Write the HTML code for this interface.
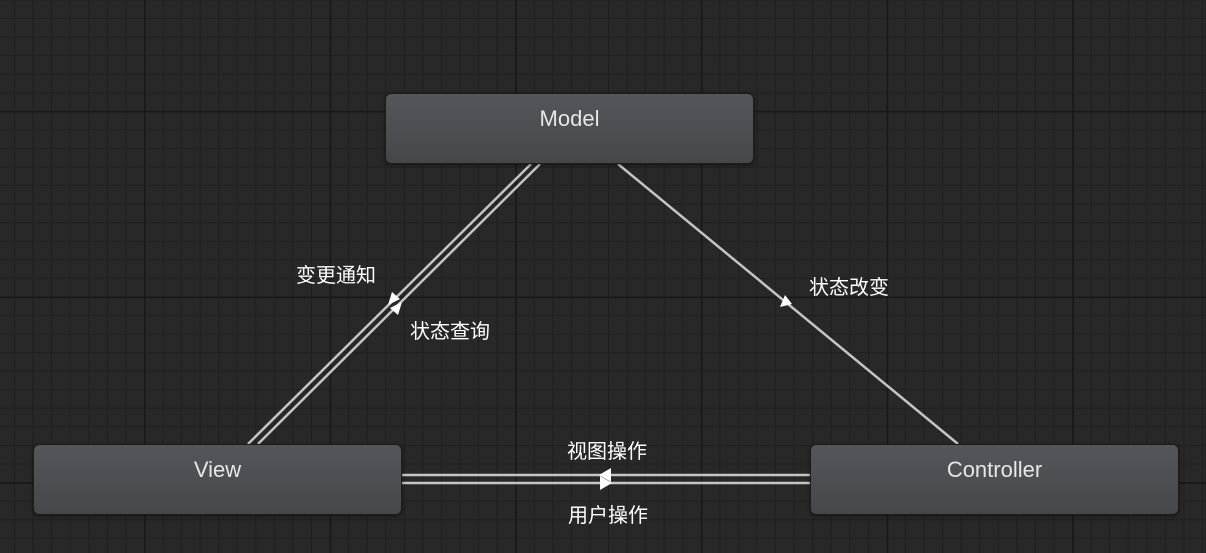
<!DOCTYPE html>
<html><head><meta charset="utf-8"><style>
body{margin:0;width:1206px;height:553px;overflow:hidden;background-color:#282828;
background-image:
linear-gradient(to right,#181818 0,#181818 1.5px,transparent 1.5px),
linear-gradient(to bottom,#181818 0,#181818 1.5px,transparent 1.5px),
linear-gradient(to right,#1f1f1f 0,#1f1f1f 1px,transparent 1px),
linear-gradient(to bottom,#1f1f1f 0,#1f1f1f 1px,transparent 1px);
background-size:185.7px 185.7px,185.7px 185.7px,18.57px 18.57px,18.57px 18.57px;
background-position:144px 0,0 111px,14px 0,0 18px;
font-family:"Liberation Sans","Noto Sans CJK SC",sans-serif;position:relative}
.n{position:absolute;width:367px;height:69px;border:1px solid #1c1c1c;border-radius:6px;
background:linear-gradient(#54565b,#45474b);color:#e6e6e6;font-size:22px;text-align:center;line-height:50px;box-shadow:0 1px 3px rgba(0,0,0,.5)}
.t{position:absolute;color:#fff;font-size:20px;white-space:nowrap}
svg{position:absolute;left:0;top:0}
</style></head><body>
<svg width="1206" height="553">
<g stroke="#c4c4c4" stroke-width="2.5">
<line x1="531" y1="164" x2="248" y2="444"/>
<line x1="540" y1="164" x2="258" y2="444"/>
<line x1="618" y1="164" x2="958" y2="444"/>
<line x1="402" y1="475" x2="810" y2="475"/>
<line x1="402" y1="483" x2="810" y2="483"/>
</g>
<g fill="#fff">
<polygon points="388,305 392,292 400,299"/>
<polygon points="402,302 398,315 390,308"/>
<polygon points="780,307 792,304 785,295"/>
<polygon points="599,475 611,468 611,482"/>
<polygon points="612,483 600,476 600,490"/>
</g>
</svg>
<div class="n" style="left:385px;top:93px">Model</div>
<div class="n" style="left:33px;top:444px">View</div>
<div class="n" style="left:810px;top:444px">Controller</div>
<div class="t" style="left:296px;top:259px">变更通知</div>
<div class="t" style="left:410px;top:315px">状态查询</div>
<div class="t" style="left:809px;top:271px">状态改变</div>
<div class="t" style="left:567px;top:435px">视图操作</div>
<div class="t" style="left:568px;top:499px">用户操作</div>
</body></html>
